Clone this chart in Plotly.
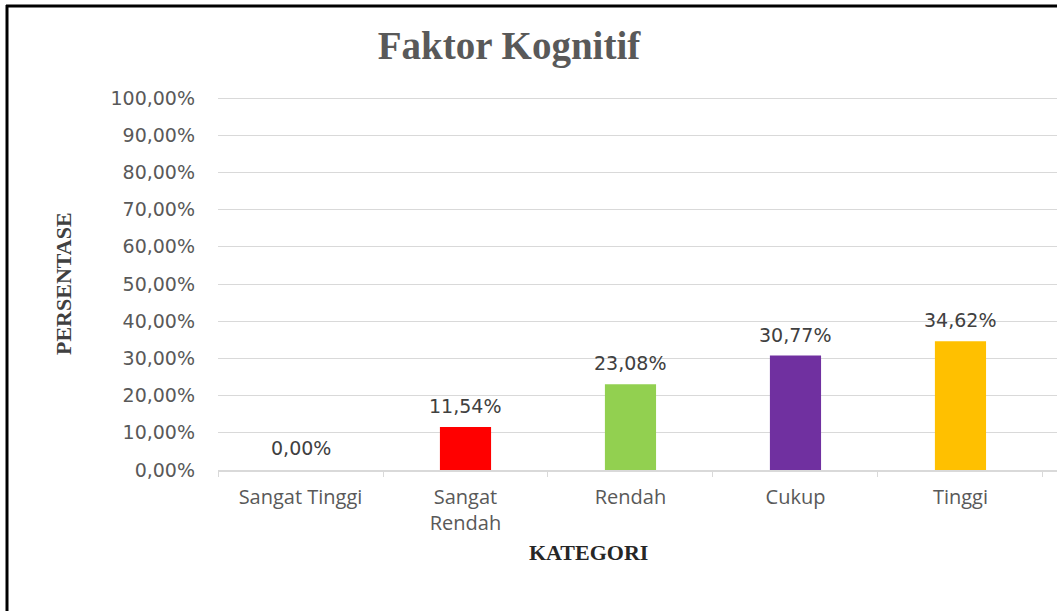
import plotly.graph_objects as go

categories = ["Sangat Tinggi", "Sangat<br>Rendah", "Rendah", "Cukup", "Tinggi"]
values = [0.0, 11.54, 23.08, 30.77, 34.62]
labels = ["0,00%", "11,54%", "23,08%", "30,77%", "34,62%"]
colors = ["#A5A5A5", "#FF0000", "#92D050", "#7030A0", "#FFC000"]
tick_vals = list(range(0, 101, 10))
tick_text = [f"{v},00%" for v in tick_vals]

W, H = 1057, 611
L, R, T, B = 218, 0, 96, 141
pw, ph = W - L - R, H - T - B
ymax = 100 * (470 - T) / (470 - 98)

def px_x(x):
    return (x - L) / pw

def px_y(y):
    return 1 - (y - T) / ph

fig = go.Figure(go.Bar(
    x=categories, y=values, marker=dict(color=colors, line=dict(width=0)),
    width=0.31, cliponaxis=False, hoverinfo="skip"))

for c, v, t in zip(categories, values, labels):
    fig.add_annotation(x=c, y=v, text=t, showarrow=False, yanchor="bottom",
                       yshift=8 if v > 0 else 9,
                       font=dict(family="DejaVu Sans", size=19, color="#404040"))

fig.update_layout(
    width=W, height=H, margin=dict(l=L, r=R, t=T, b=B, autoexpand=False),
    paper_bgcolor="white", plot_bgcolor="white", showlegend=False,
    title=dict(text="<b>Faktor Kognitif</b>", x=509 / W, xanchor="center",
               y=1 - 45 / H, yanchor="middle",
               font=dict(family="Liberation Serif", size=39, color="#595959")),
)
fig.update_xaxes(type="category", range=[-0.5, 4.585], showline=True,
                 linecolor="#D9D9D9", linewidth=1.5, ticks="outside",
                 tickson="boundaries", ticklen=5, tickcolor="#D9D9D9",
                 showgrid=False, ticklabelstandoff=8,
                 tickfont=dict(family="Open Sans", size=20, color="#595959"))
fig.update_yaxes(range=[0, ymax], tickvals=tick_vals, ticktext=tick_text,
                 showgrid=True, gridcolor="#D9D9D9", gridwidth=1.2,
                 zeroline=False, showline=False, ticks="",
                 ticklabelstandoff=22,
                 tickfont=dict(family="DejaVu Sans", size=19, color="#595959"))

fig.add_annotation(text="<b>PERSENTASE</b>", xref="paper", yref="paper",
                   x=px_x(63), y=px_y(284), textangle=-90, showarrow=False,
                   xanchor="center", yanchor="middle",
                   font=dict(family="Liberation Serif", size=22, color="#404040"))
fig.add_annotation(text="<b>KATEGORI</b>", xref="paper", yref="paper",
                   x=px_x(588), y=px_y(552), showarrow=False,
                   xanchor="center", yanchor="middle",
                   font=dict(family="Liberation Serif", size=22, color="#262626"))

# outer frame (left and top edges visible)
fig.add_shape(type="line", xref="paper", yref="paper",
              x0=px_x(7), x1=px_x(7), y0=px_y(5), y1=px_y(H + 2),
              line=dict(color="black", width=3))
fig.add_shape(type="line", xref="paper", yref="paper",
              x0=px_x(6), x1=px_x(W + 2), y0=px_y(6), y1=px_y(6),
              line=dict(color="black", width=3))

fig.write_html("out.html", config={"displayModeBar": False},
               post_script="document.body.style.margin='0';document.body.style.overflow='hidden';")
